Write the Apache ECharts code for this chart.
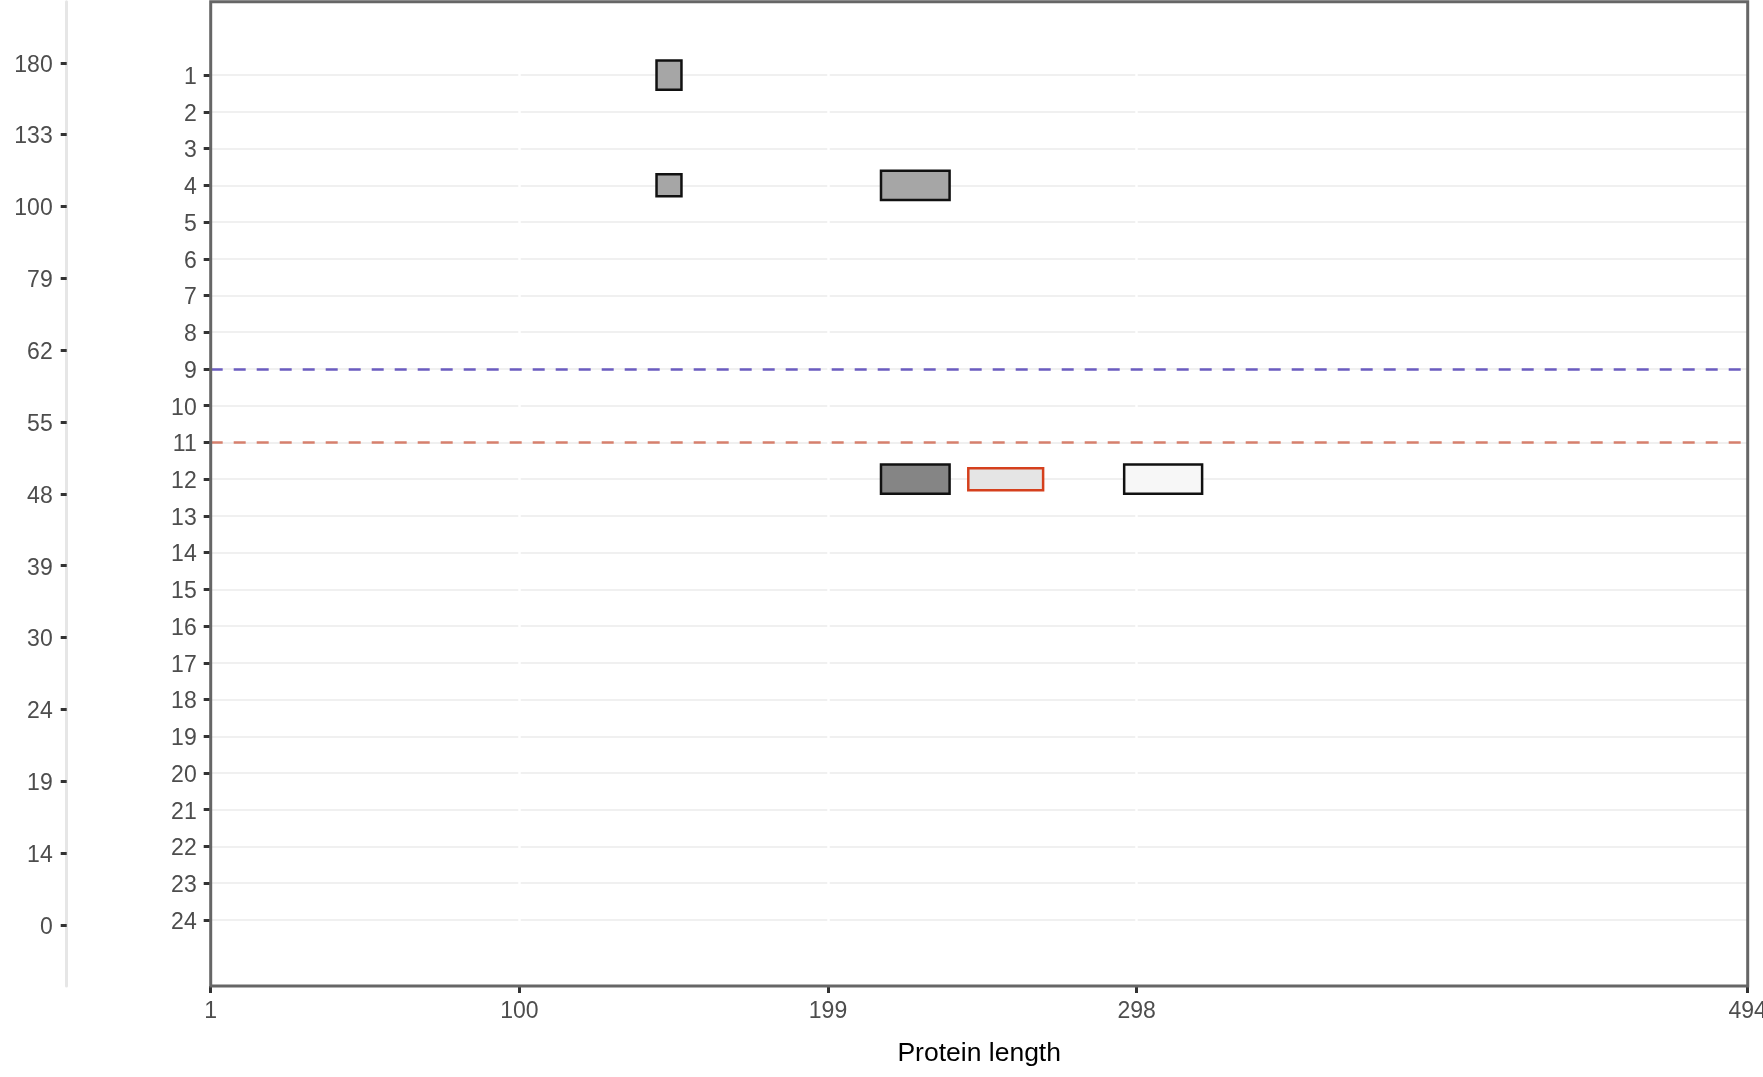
<!DOCTYPE html>
<html><head><meta charset="utf-8">
<script src="https://cdn.jsdelivr.net/npm/echarts@6/dist/echarts.min.js"></script>
<style>html,body{margin:0;padding:0;background:#fff;overflow:hidden}#c{width:1763px;height:1077px}</style>
</head><body><div id="c"></div>
<script>
// ---- data ----
const rowLabels = [1,2,3,4,5,6,7,8,9,10,11,12,13,14,15,16,17,18,19,20,21,22,23,24];
const xTicks = [1, 100, 199, 298, 494];
const xBreaks = [100, 199, 298];
const outerLabels = ['0','14','19','24','30','39','48','55','62','79','100','133','180'];
const domainStart = [144, 144, 216, 216, 244, 294];
const domainEnd   = [152, 152, 238, 238, 268, 319];
const domainRow   = [1, 4, 4, 12, 12, 12];
const domainType  = ['A', 'B', 'A', 'C', 'D', 'E'];
const cutoffRows  = [9, 11];
const cutoffType  = ['blue', 'red'];

// ---- styles ----
const typeStyle = {
  A: {fill: '#a6a6a6', stroke: '#111', half: 0.4},
  B: {fill: '#a6a6a6', stroke: '#111', half: 0.3},
  C: {fill: '#858585', stroke: '#111', half: 0.4},
  D: {fill: '#e5e5e5', stroke: '#d5401d', half: 0.3},
  E: {fill: '#f7f7f7', stroke: '#111', half: 0.4}
};
const cutoffColor = {blue: '#6b5cc0', red: '#d6806d'};
const FONT = 'Liberation Sans, Arial, sans-serif';
const outerIdx = outerLabels.map((_, i) => i);

const domainData = domainStart.map((s, i) => [s, domainEnd[i], domainRow[i]]);

const chart = echarts.init(document.getElementById('c'), null, {renderer: 'canvas'});
chart.setOption({
  animation: false,
  backgroundColor: '#fff',
  textStyle: {fontFamily: FONT},
  grid: [
    {left: 210.7, right: 15.3, top: 1.7, bottom: 91, show: true, z: 10, borderColor: '#666', borderWidth: 3,
     backgroundColor: 'transparent', containLabel: false, outerBoundsMode: 'none'},
    {left: 66.7, width: 1, top: 1.7, bottom: 91, show: false, containLabel: false, outerBoundsMode: 'none'}
  ],
  xAxis: [
    {
      gridIndex: 0, type: 'value', min: 1, max: 494,
      axisLine: {show: false, onZero: false},
      axisTick: {show: true, customValues: xTicks, length: 7, lineStyle: {color: '#333', width: 3}},
      axisLabel: {show: true, customValues: xTicks, fontSize: 23, color: '#4d4d4d', margin: 14, fontFamily: FONT},
      splitLine: {show: false},
      name: 'Protein length', nameLocation: 'middle', nameGap: 54,
      nameTextStyle: {fontSize: 26.5, color: '#000', fontFamily: FONT}
    },
    {gridIndex: 1, type: 'value', show: false, min: 0, max: 1}
  ],
  yAxis: [
    {
      gridIndex: 0, type: 'value', inverse: true, min: -1, max: 25.8, interval: 1,
      axisLine: {show: false, onZero: false},
      axisTick: {show: true, customValues: rowLabels, length: 7, lineStyle: {color: '#333', width: 3}},
      axisLabel: {show: true, customValues: rowLabels, fontSize: 23, color: '#4d4d4d', margin: 14, fontFamily: FONT,
                  verticalAlign: 'top', lineHeight: 5},
      splitLine: {show: true, lineStyle: {color: '#ebebeb', width: 1.5}}
    },
    {
      gridIndex: 1, type: 'value', min: -0.85, max: 12.85,
      axisLine: {show: true, onZero: false, lineStyle: {color: '#e6e6e6', width: 3}},
      axisTick: {show: true, customValues: outerIdx, length: 6, lineStyle: {color: '#333', width: 3}},
      axisLabel: {show: true, customValues: outerIdx, formatter: v => outerLabels[Math.round(v)], fontSize: 23, color: '#4d4d4d', margin: 14, fontFamily: FONT,
                  verticalAlign: 'top', lineHeight: 5},
      splitLine: {show: false}
    }
  ],
  series: [
    {
      type: 'line', xAxisIndex: 0, yAxisIndex: 0, data: [], z: 1, silent: true,
      markLine: {
        z: 1, silent: true, symbol: 'none', animation: false,
        label: {show: false},
        lineStyle: {color: '#ffffff', width: 2.5, type: 'solid'},
        data: xBreaks.map(v => ({xAxis: v}))
      }
    },
    {
      type: 'line', xAxisIndex: 0, yAxisIndex: 0, data: [], z: 2, silent: true,
      markLine: {
        z: 2, silent: true, symbol: 'none', animation: false,
        label: {show: false},
        data: cutoffRows.map((r, i) => ({
          yAxis: r,
          lineStyle: {color: cutoffColor[cutoffType[i]], width: 2.5, type: [12, 11]}
        }))
      }
    },
    {
      type: 'custom', xAxisIndex: 0, yAxisIndex: 0, z: 3,
      data: domainData,
      encode: {x: [0, 1], y: 2},
      renderItem: function (params, api) {
        const s = api.value(0), e = api.value(1), r = api.value(2);
        const t = typeStyle[domainType[params.dataIndex]];
        const p1 = api.coord([s, r - t.half]);
        const p2 = api.coord([e, r + t.half]);
        return {
          type: 'rect',
          shape: {x: p1[0], y: Math.min(p1[1], p2[1]), width: p2[0] - p1[0], height: Math.abs(p2[1] - p1[1])},
          style: {fill: t.fill, stroke: t.stroke, lineWidth: 2.5}
        };
      }
    }
  ]
});
</script>
</body></html>
